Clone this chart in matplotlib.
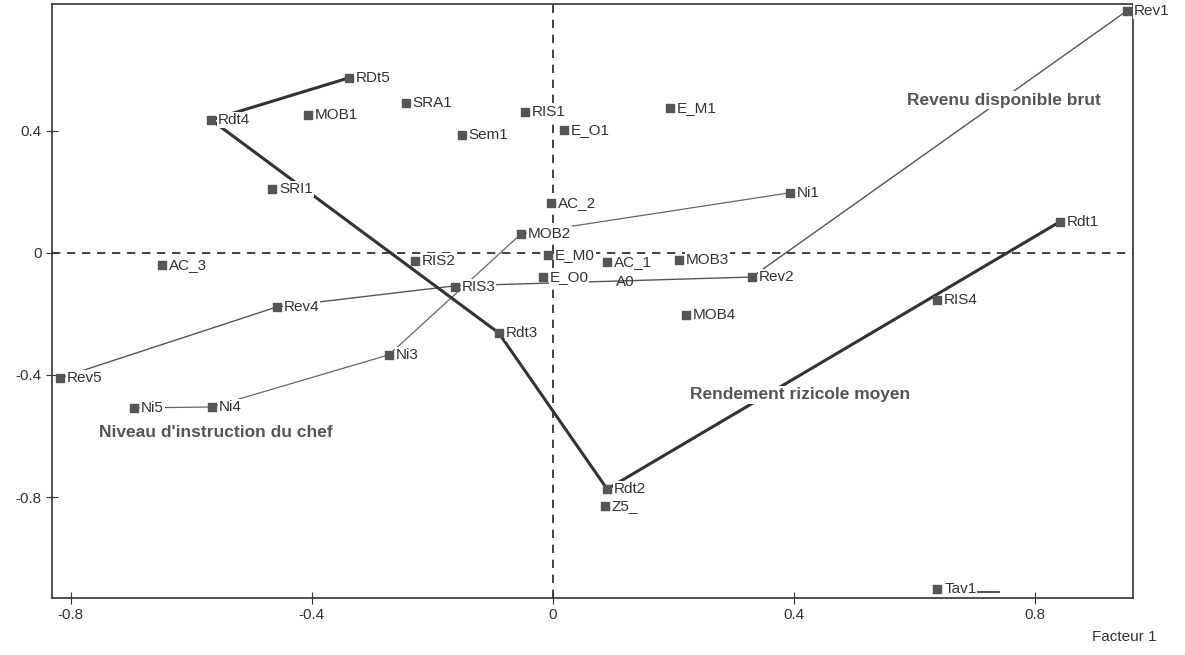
import matplotlib.pyplot as plt

plt.rcParams['font.family'] = ['Liberation Sans', 'DejaVu Sans']

# modalites (facteur 1, facteur 2)
labels = ['Rev1', 'Rdt1', 'Ni1', 'E_M1', 'E_O1', 'RIS1', 'Sem1', 'SRA1', 'RDt5', 'MOB1',
          'Rdt4', 'SRI1', 'AC_2', 'MOB2', 'RIS2', 'AC_3', 'E_M0', 'AC_1', 'E_O0', 'RIS3',
          'MOB3', 'Rev2', 'MOB4', 'RIS4', 'Rev4', 'Rdt3', 'Ni3', 'Rev5', 'Ni5', 'Ni4',
          'Rdt2', 'Z5_', 'Tav1']
f1 = [0.952, 0.841, 0.393, 0.194, 0.018, -0.046, -0.151, -0.244, -0.338, -0.406,
      -0.567, -0.466, -0.003, -0.053, -0.229, -0.648, -0.008, 0.090, -0.017, -0.163,
      0.209, 0.330, 0.221, 0.637, -0.458, -0.090, -0.272, -0.818, -0.695, -0.566,
      0.090, 0.086, 0.638]
f2 = [0.793, 0.102, 0.197, 0.475, 0.403, 0.462, 0.387, 0.492, 0.574, 0.452,
      0.436, 0.210, 0.164, 0.062, -0.026, -0.039, -0.007, -0.030, -0.079, -0.111,
      -0.023, -0.079, -0.203, -0.154, -0.177, -0.262, -0.334, -0.410, -0.508, -0.505,
      -0.774, -0.830, -1.102]

# trajectoires
rdt_x = [0.841, 0.090, -0.090, -0.567, -0.338]
rdt_y = [0.102, -0.774, -0.262, 0.436, 0.574]
rev_x = [0.952, 0.330, -0.163, -0.458, -0.818]
rev_y = [0.793, -0.079, -0.108, -0.177, -0.410]
ni_x = [0.393, -0.053, -0.272, -0.566, -0.695]
ni_y = [0.197, 0.062, -0.334, -0.505, -0.508]

fig = plt.figure(figsize=(11.85, 6.55), dpi=100)
ax = fig.add_axes([0.0439, 0.087, 0.912, 0.907])

ax.axhline(0, color='#222', lw=1.2, ls=(0, (5, 4)), zorder=1)
ax.axvline(0, color='#222', lw=1.2, ls=(0, (5, 4)), zorder=1)

ax.plot(rev_x, rev_y, color='#555', lw=1, zorder=2)
ax.plot(ni_x, ni_y, color='#666', lw=0.9, zorder=2)
ax.plot(rdt_x, rdt_y, color='#333', lw=2.2, zorder=2)

ax.scatter(f1, f2, marker='s', s=28, color='#555', zorder=3)
for lab, x, y in zip(labels, f1, f2):
    ax.annotate(lab, (x, y), xytext=(5, 0), textcoords='offset points',
                ha='left', va='center', fontsize=11, color='#333', zorder=4,
                bbox=dict(facecolor='white', edgecolor='none', pad=0.6))
ax.text(0.105, -0.095, 'A0', fontsize=11, color='#333', ha='left', va='center')
ax.plot([0.688, 0.74], [-1.112, -1.112], color='#333', lw=1.2)

bold = dict(fontsize=12.5, fontweight='bold', color='#555', ha='center', va='center',
            bbox=dict(facecolor='white', edgecolor='none', pad=1), zorder=5)
ax.text(0.748, 0.50, 'Revenu disponible brut', **bold)
ax.text(0.410, -0.465, 'Rendement rizicole moyen', **bold)
ax.text(-0.560, -0.590, "Niveau d'instruction du chef", **bold)

ax.set_xlim(-0.831, 0.962)
ax.set_ylim(-1.131, 0.816)
ax.set_xticks([-0.8, -0.4, 0, 0.4, 0.8])
ax.set_xticklabels(['-0.8', '-0.4', '0', '0.4', '0.8'])
ax.set_yticks([-0.8, -0.4, 0, 0.4])
ax.set_yticklabels(['-0.8', '-0.4', '0', '0.4'])
ax.tick_params(direction='inout', length=8, labelsize=11, labelcolor='#333', color='#333')
for s in ax.spines.values():
    s.set_color('#333')
    s.set_linewidth(1.2)

fig.text(0.949, 0.027, 'Facteur 1', fontsize=11, color='#333', ha='center', va='center')

fig.savefig('out.png', dpi=100)
